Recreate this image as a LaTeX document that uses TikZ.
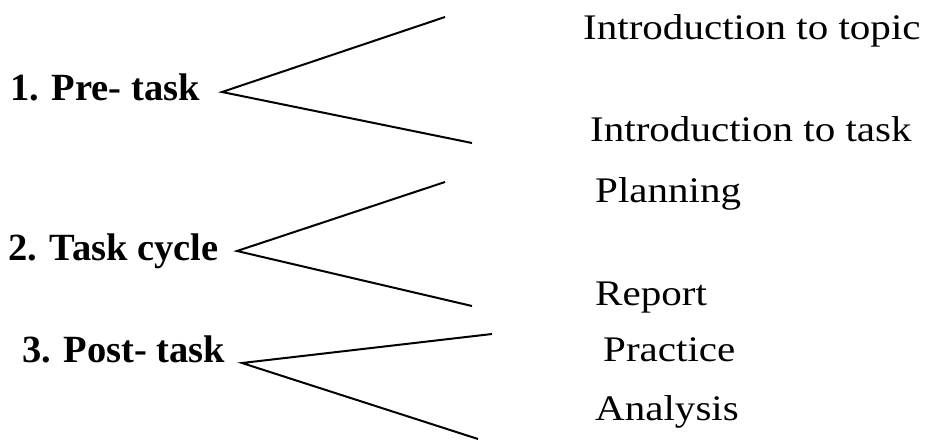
\documentclass[tikz,border=0pt]{standalone}
\usepackage{fontspec}
\setmainfont{Liberation Serif}
\newfontfamily\widefont[FakeStretch=1.14]{Liberation Serif}
\usetikzlibrary{positioning,
    calc}

\begin{document}
\begin{tikzpicture} [x = 1pt, y = -1pt,
    every node/.style = {inner sep = 0pt, anchor = base west},
    stage/.style = {font = \fontsize{38.5}{42}\selectfont\bfseries},
    part/.style = {font = \widefont\fontsize{36}{40}\selectfont},
    branch/.style = {line width = 2pt}]
\useasboundingbox (0,0) rectangle (929,442);

\node[stage] (s1) at (10,100) {1. Pre- task};
\node[stage] (s2) at (8,260) {2. Task cycle};
\node[stage] (s3) at (22,362) {3. Post- task};

\node[part] (p1) at (583,39) {Introduction to topic};
\node[part] (p2) at (590,141) {Introduction to task};
\node[part] (p3) at (595,202) {Planning};
\node[part] (p4) at (595,305) {Report};
\node[part] (p5) at (603,361) {Practice};
\node[part] (p6) at (595,420) {Analysis};

\coordinate (t1) at (222,92);
\coordinate (t2) at (237,251);
\coordinate (t3) at (242,363);
\coordinate (e1) at (445,17);
\coordinate (e2) at (472,143);
\coordinate (e3) at (445,182);
\coordinate (e4) at (472,306);
\coordinate (e5) at (492,334);
\coordinate (e6) at (478,439);

\draw[branch] (e1) -- (t1) -- (e2);
\draw[branch] (e3) -- (t2) -- (e4);
\draw[branch] (e5) -- (t3) -- (e6);
\end{tikzpicture}
\end{document}
